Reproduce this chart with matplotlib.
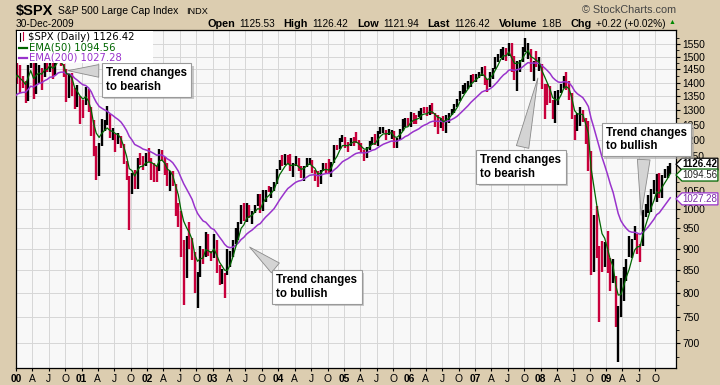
import numpy as np
import pandas as pd
import matplotlib
matplotlib.use("Agg")
import matplotlib.pyplot as plt
import matplotlib.dates as mdates
from matplotlib.patches import Polygon, Rectangle
from matplotlib.lines import Line2D
from matplotlib.ticker import FixedLocator, NullFormatter
from matplotlib.transforms import blended_transform_factory, IdentityTransform

# half-month bars for $SPX, Jan 2000 .. Dec 2009 (24 per year)
closes = [
    1465, 1394, 1387, 1366, 1464, 1499, 1357, 1452, 1452, 1421, 1478, 1455, 1495, 1431, 1484, 1518, 1466, 1437, 1374, 1429, 1383, 1315, 1340, 1320,
    1318, 1366, 1301, 1240, 1173, 1160, 1183, 1249, 1250, 1256, 1215, 1224, 1209, 1211, 1181, 1134, 1093, 1041, 1097, 1060, 1142, 1139, 1123, 1148,
    1139, 1130, 1116, 1107, 1166, 1147, 1111, 1077, 1097, 1067, 1007, 990, 918, 912, 920, 916, 889, 815, 841, 886, 882, 936, 889, 880,
    918, 856, 835, 841, 833, 848, 885, 917, 945, 964, 1000, 975, 1006, 990, 990, 1008, 1018, 996, 1050, 1051, 1050, 1058, 1068, 1112,
    1139, 1131, 1146, 1145, 1110, 1126, 1129, 1107, 1095, 1121, 1136, 1141, 1106, 1102, 1065, 1104, 1128, 1115, 1104, 1130, 1180, 1174, 1204, 1212,
    1185, 1181, 1205, 1204, 1197, 1181, 1162, 1157, 1173, 1192, 1207, 1191, 1228, 1234, 1237, 1220, 1227, 1229, 1186, 1207, 1233, 1249, 1270, 1248,
    1287, 1280, 1275, 1281, 1303, 1295, 1289, 1311, 1292, 1270, 1256, 1270, 1237, 1277, 1285, 1304, 1320, 1336, 1366, 1378, 1396, 1401, 1427, 1418,
    1431, 1438, 1456, 1407, 1387, 1421, 1452, 1482, 1501, 1531, 1533, 1503, 1549, 1455, 1427, 1474, 1482, 1527, 1548, 1549, 1452, 1481, 1468, 1468,
    1380, 1379, 1349, 1331, 1288, 1323, 1334, 1386, 1423, 1400, 1360, 1280, 1215, 1267, 1285, 1283, 1193, 1165, 907, 969, 911, 896, 868, 903,
    850, 826, 827, 735, 756, 798, 852, 873, 882, 919, 939, 919, 906, 987, 1005, 1021, 1052, 1057, 1092, 1036, 1093, 1096, 1108, 1126,
]
highs = [
    1478, 1465, 1424, 1405, 1465, 1553, 1520, 1482, 1465, 1455, 1480, 1480, 1502, 1495, 1491, 1525, 1530, 1470, 1450, 1432, 1435, 1380, 1390, 1350,
    1335, 1383, 1376, 1310, 1267, 1182, 1192, 1269, 1268, 1316, 1286, 1240, 1220, 1225, 1215, 1190, 1135, 1093, 1100, 1110, 1146, 1160, 1150, 1160,
    1176, 1145, 1130, 1120, 1173, 1170, 1147, 1130, 1106, 1107, 1070, 1015, 995, 920, 930, 965, 925, 891, 845, 907, 900, 941, 935, 895,
    935, 920, 862, 852, 844, 898, 895, 920, 950, 965, 1010, 1015, 1015, 1010, 995, 1011, 1040, 1040, 1053, 1053, 1063, 1060, 1075, 1112,
    1140, 1155, 1158, 1154, 1157, 1130, 1150, 1145, 1120, 1122, 1146, 1146, 1140, 1110, 1105, 1110, 1130, 1130, 1142, 1132, 1185, 1185, 1208, 1217,
    1211, 1195, 1208, 1212, 1228, 1200, 1192, 1170, 1180, 1199, 1210, 1220, 1230, 1245, 1245, 1235, 1236, 1233, 1229, 1208, 1236, 1270, 1275, 1273,
    1295, 1290, 1285, 1297, 1307, 1310, 1310, 1318, 1326, 1292, 1285, 1273, 1282, 1285, 1290, 1306, 1322, 1340, 1368, 1390, 1400, 1407, 1430, 1431,
    1433, 1440, 1460, 1462, 1415, 1440, 1455, 1498, 1510, 1532, 1540, 1535, 1555, 1556, 1503, 1481, 1487, 1539, 1576, 1555, 1530, 1483, 1523, 1498,
    1471, 1396, 1396, 1388, 1335, 1370, 1372, 1396, 1425, 1440, 1405, 1362, 1285, 1292, 1313, 1300, 1275, 1265, 1167, 985, 1007, 905, 918, 915,
    943, 877, 875, 837, 773, 832, 858, 876, 930, 924, 956, 935, 910, 996, 1012, 1039, 1056, 1080, 1097, 1101, 1096, 1113, 1120, 1130,
]
lows = [
    1395, 1360, 1380, 1325, 1333, 1455, 1339, 1357, 1400, 1374, 1420, 1438, 1440, 1413, 1430, 1480, 1461, 1420, 1329, 1342, 1350, 1305, 1310, 1254,
    1275, 1318, 1295, 1215, 1150, 1081, 1091, 1181, 1232, 1250, 1208, 1203, 1165, 1190, 1175, 1128, 1080, 945, 1040, 1055, 1054, 1125, 1110, 1120,
    1132, 1081, 1075, 1074, 1106, 1137, 1095, 1063, 1048, 1063, 982, 952, 880, 775, 833, 900, 873, 800, 768, 835, 863, 880, 882, 870,
    877, 844, 816, 818, 789, 840, 858, 880, 911, 920, 960, 969, 965, 975, 960, 990, 1008, 990, 995, 1018, 1045, 1031, 1050, 1070,
    1110, 1122, 1124, 1128, 1105, 1088, 1120, 1105, 1085, 1076, 1118, 1124, 1100, 1078, 1060, 1070, 1105, 1101, 1098, 1090, 1130, 1170, 1173, 1194,
    1176, 1163, 1181, 1183, 1193, 1170, 1160, 1137, 1146, 1170, 1185, 1187, 1182, 1221, 1225, 1202, 1218, 1205, 1176, 1176, 1201, 1230, 1245, 1246,
    1245, 1254, 1253, 1278, 1268, 1291, 1280, 1285, 1288, 1245, 1220, 1240, 1230, 1224, 1256, 1285, 1290, 1310, 1332, 1357, 1363, 1377, 1385, 1403,
    1403, 1416, 1426, 1390, 1364, 1385, 1415, 1452, 1480, 1495, 1488, 1484, 1503, 1440, 1410, 1370, 1440, 1480, 1520, 1490, 1440, 1406, 1460, 1445,
    1375, 1270, 1320, 1325, 1270, 1256, 1320, 1360, 1380, 1373, 1335, 1272, 1200, 1232, 1247, 1262, 1190, 1105, 840, 845, 877, 741, 845, 857,
    843, 804, 821, 730, 666, 750, 783, 825, 880, 878, 922, 888, 869, 905, 980, 990, 992, 1040, 1020, 1030, 1029, 1085, 1085, 1097,
]
# 1999 half-month closes, only used to seed the moving averages
warmup_1999 = [1243, 1280, 1230, 1238, 1307, 1286, 1322, 1335, 1338, 1302, 1301, 1373,
               1418, 1329, 1327, 1320, 1318, 1283, 1247, 1362, 1396, 1389, 1413, 1469]

last_values = [1126.42, 1094.56, 1027.28]          # close, EMA(50), EMA(200)
quote = [("Open", "1125.53"), ("High", "1126.42"), ("Low", "1121.94"),
         ("Last", "1126.42"), ("Volume", "1.8B"), ("Chg", "+0.22 (+0.02%)")]
y_ticks = list(range(700, 1551, 50))
year_labels = ["00", "01", "02", "03", "04", "05", "06", "07", "08", "09"]
quarter_letters = ["A", "J", "O"]
notes = [
    ("Trend changes\nto bearish", "2000-10-01", 1445),
    ("Trend changes\nto bullish", "2003-07-13", 908),
    ("Trend changes\nto bearish", "2007-12-20", 1427),
    ("Trend changes\nto bullish", "2009-07-13", 976),
]

BG = "#dccdb0"
RED = "#c8003c"
GREEN = "#006600"
PURPLE = "#9933cc"
W, H = 720, 385

months = pd.date_range("1999-01-01", "2009-12-01", freq="MS")
dates = []
for m in months:
    dates += [m + pd.Timedelta(days=7), m + pd.Timedelta(days=22)]
dates = pd.DatetimeIndex(dates)
all_close = pd.Series(warmup_1999 + closes, index=dates)

# daily EMA(50)/EMA(200) expressed per half-month step (~10.5 sessions)
a50 = 1 - (1 - 2 / 51) ** 10.5
a200 = 1 - (1 - 2 / 201) ** 10.5
ema50 = all_close.ewm(alpha=a50, adjust=False).mean()
ema200 = all_close.ewm(alpha=a200, adjust=False).mean()

bar_dates = dates[24:]
prev = all_close.values[23:-1]
bar_colors = [RED if c < p else "black" for c, p in zip(closes, prev)]

plt.rcParams["font.family"] = ["Liberation Sans", "DejaVu Sans"]

def px(x, y):
    return x / W, 1 - y / H

fig = plt.figure(figsize=(W / 100, H / 100), dpi=100, facecolor=BG)
ax = fig.add_axes([16 / W, 17 / H, 660 / W, 338 / H])
ax.set_facecolor("#f8f8f8")

ax.vlines(bar_dates, lows, highs, colors=bar_colors, linewidth=1.7, zorder=2)
ax.plot(dates, ema200.values, color=PURPLE, lw=1.1, zorder=3)
ax.plot(dates, ema50.values, color=GREEN, lw=0.9, zorder=3)

ax.set_yscale("log")
ax.set_ylim(655, 1610)
ax.set_xlim(pd.Timestamp("2000-01-01"), pd.Timestamp("2010-01-24"))

ax.yaxis.tick_right()
ax.set_yticks(y_ticks, ["" if v == 1100 else str(v) for v in y_ticks])
ax.yaxis.set_minor_locator(FixedLocator([v + 25 for v in range(650, 1551, 50)]))
ax.yaxis.set_minor_formatter(NullFormatter())
ax.tick_params(axis="y", which="major", labelsize=7.4, length=3, pad=1.5, colors="black")
ax.tick_params(axis="y", which="minor", length=2)

q_ticks = pd.date_range("2000-01-01", "2009-10-01", freq="QS")
q_labels = []
for yl in year_labels:
    q_labels += [yl] + quarter_letters
ax.set_xticks(mdates.date2num(q_ticks), q_labels)
for lab in ax.get_xticklabels():
    if lab.get_text().isdigit():
        lab.set_fontweight("bold")
ax.tick_params(axis="x", labelsize=7.4, length=2, pad=2)

ax.grid(True, which="major", color="#d6d6d6", lw=0.7)
ax.set_axisbelow(True)
for s in ax.spines.values():
    s.set_color("black")
    s.set_linewidth(0.9)

# header
fig.text(*px(16, 11), "$SPX", fontsize=10.5, fontweight="bold", va="center")
fig.text(*px(58, 11), "S&P 500 Large Cap Index", fontsize=7.5, va="center")
fig.text(*px(186, 11.5), "INDX", fontsize=6.6, va="center")
fig.text(*px(676, 10), "\u00a9 StockCharts.com", fontsize=7.8, va="center", ha="right", color="#444444")
fig.text(*px(16, 24), "30-Dec-2009", fontsize=7.3, va="center")

renderer = fig.canvas.get_renderer()
pieces = []
for lab, val in quote:
    pieces.append((lab, dict(fontsize=7.8, fontweight="bold"), 4.5))
    pieces.append((val, dict(fontsize=7.2), 8.5))
widths = []
for txt, kw, gap in pieces:
    t = fig.text(0, 0, txt, **kw)
    widths.append(t.get_window_extent(renderer).width)
    t.remove()
x = 666 - sum(widths) - sum(g for _, _, g in pieces[:-1])
for (txt, kw, gap), wd in zip(pieces, widths):
    fig.text(*px(x, 24), txt, va="center", **kw)
    x += wd + gap
fig.text(*px(672, 23), "\u25b2", fontsize=5, color="#008800", va="center", ha="center")

# legend box
fig.patches.append(Rectangle(px(16.5, 63), 136 / W, 32.5 / H, transform=fig.transFigure,
                             facecolor="white", edgecolor="none", zorder=1))
fig.add_artist(Line2D([20 / W, 20 / W], [1 - 33 / H, 1 - 41 / H], color="black", lw=0.8))
fig.add_artist(Line2D([23 / W, 23 / W], [1 - 32 / H, 1 - 40 / H], color=RED, lw=0.8))
fig.add_artist(Line2D([19 / W, 27 / W], [1 - 48 / H] * 2, color=GREEN, lw=1.6))
fig.add_artist(Line2D([19 / W, 27 / W], [1 - 58 / H] * 2, color=PURPLE, lw=1.6))
lg = dict(family=["DejaVu Sans"], fontsize=7.2, va="center", zorder=4)
fig.text(*px(28, 37), "$SPX (Daily) %.2f" % last_values[0], color="black", **lg)
fig.text(*px(29, 48), "EMA(50) %.2f" % last_values[1], color=GREEN, **lg)
fig.text(*px(29, 58), "EMA(200) %.2f" % last_values[2], color=PURPLE, **lg)

# value tags on the right axis
tr = blended_transform_factory(ax.transAxes, ax.transData)
k = np.exp(np.log(1610 / 655) / 338 * 6)
tag_edge = ["black", GREEN, PURPLE]
tag_text = ["black", "#222222", "#7a2aa8"]
for v, ec, tc, bold in zip(last_values, tag_edge, tag_text, [True, False, False]):
    poly = Polygon([(1.0, v), (1.009, v * k), (1.0635, v * k), (1.0635, v / k), (1.009, v / k)],
                   closed=True, transform=tr, facecolor="white", edgecolor=ec, lw=0.9,
                   clip_on=False, zorder=10)
    ax.add_patch(poly)
    ax.text(1.0095, v, "%.2f" % v, transform=tr, fontsize=7.0,
            fontweight="bold" if bold else "normal", color=tc, va="center", ha="left",
            zorder=11, clip_on=False)

# callouts
centers = [(146.5, 80), (317, 287), (521, 167), (646.5, 139.5)]
relpos = [(0.0, 0.85), (0.08, 1.0), (0.5, 1.0), (0.47, 0.0)]
anns = []
for (txt, d, v), (cx, cy), rp in zip(notes, centers, relpos):
    a = ax.annotate(txt, xy=(mdates.date2num(pd.Timestamp(d)), v), xycoords="data",
                    xytext=(cx, H - cy), textcoords="figure pixels",
                    ha="center", va="center", multialignment="left",
                    fontsize=8.3, fontweight="bold", zorder=12, annotation_clip=False,
                    bbox=dict(boxstyle="square,pad=0.35", fc="white", ec="#9a9a9a", lw=0.8),
                    arrowprops=dict(arrowstyle="wedge,tail_width=1.1,shrink_factor=0.5",
                                    fc="#d4d4d4", ec="#8a8a8a", lw=0.6, relpos=rp))
    anns.append(a)

fig.canvas.draw()
for a in anns:
    bb = a.get_bbox_patch().get_window_extent(renderer)
    ax.add_patch(Rectangle((bb.x0 + 2.5, bb.y0 - 2.5), bb.width, bb.height,
                           transform=IdentityTransform(), facecolor="#a8a8a8",
                           edgecolor="none", alpha=0.6, zorder=11.5, clip_on=False))

fig.savefig("out.png", dpi=100, facecolor=BG)
